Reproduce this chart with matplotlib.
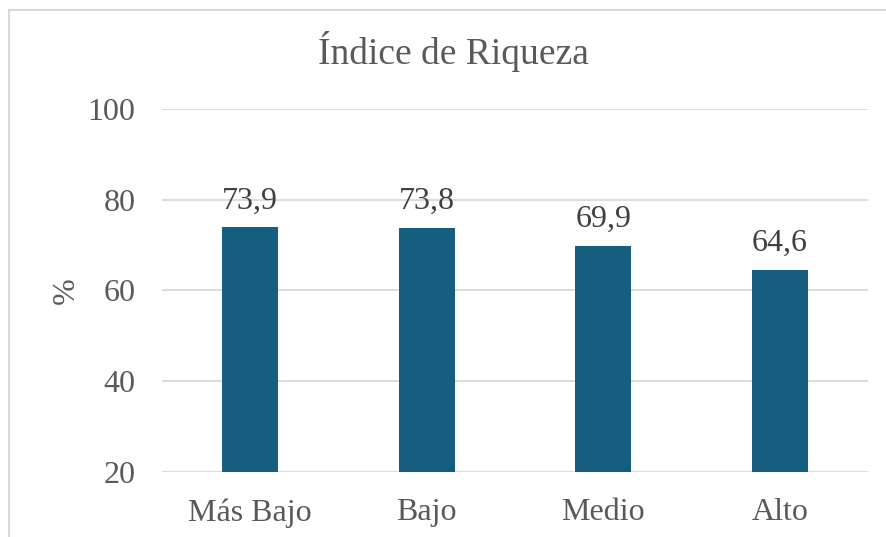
import matplotlib.pyplot as plt
from matplotlib.patches import Rectangle

# Data
categorias = ['Más Bajo', 'Bajo', 'Medio', 'Alto']
valores = [73.9, 73.8, 69.9, 64.6]
etiquetas = ['73,9', '73,8', '69,9', '64,6']
y_ticks = [20, 40, 60, 80, 100]

plt.rcParams['font.family'] = ['Liberation Serif', 'DejaVu Serif']

fig = plt.figure(figsize=(8.86, 5.37), dpi=100)
ax = fig.add_axes([162/886, 1-472/537, (868-162)/886, (472-109)/537])

x = range(len(categorias))
ax.bar(x, valores, width=0.32, color='#165E80', zorder=3)
for i, v in enumerate(valores):
    ax.text(i, v + 2.6, etiquetas[i], ha='center', va='bottom',
            fontsize=23, color='#404040')

ax.set_ylim(20, 100)
ax.set_xlim(-0.5, len(categorias) - 0.5)
ax.set_yticks(y_ticks)
ax.set_xticks(list(x))
ax.set_xticklabels(categorias)
ax.tick_params(axis='both', length=0, labelsize=23, labelcolor='#595959')
ax.tick_params(axis='y', pad=19)
ax.tick_params(axis='x', pad=19)
ax.grid(axis='y', color='#D9D9D9', lw=1.3, zorder=0)
for s in ax.spines.values():
    s.set_visible(False)

ax.set_ylabel('%', fontsize=23, color='#595959', labelpad=5)
fig.text(453/886, 1-52/537, 'Índice de Riqueza', ha='center', va='center',
         fontsize=27, color='#595959')

# chart border
fig.patches.append(Rectangle((9/886, -0.05), 1.0, 1 - 10/537 + 0.05,
                             transform=fig.transFigure, fill=False,
                             edgecolor='#D9D9D9', lw=1.5))

plt.savefig('out.png', dpi=100)
